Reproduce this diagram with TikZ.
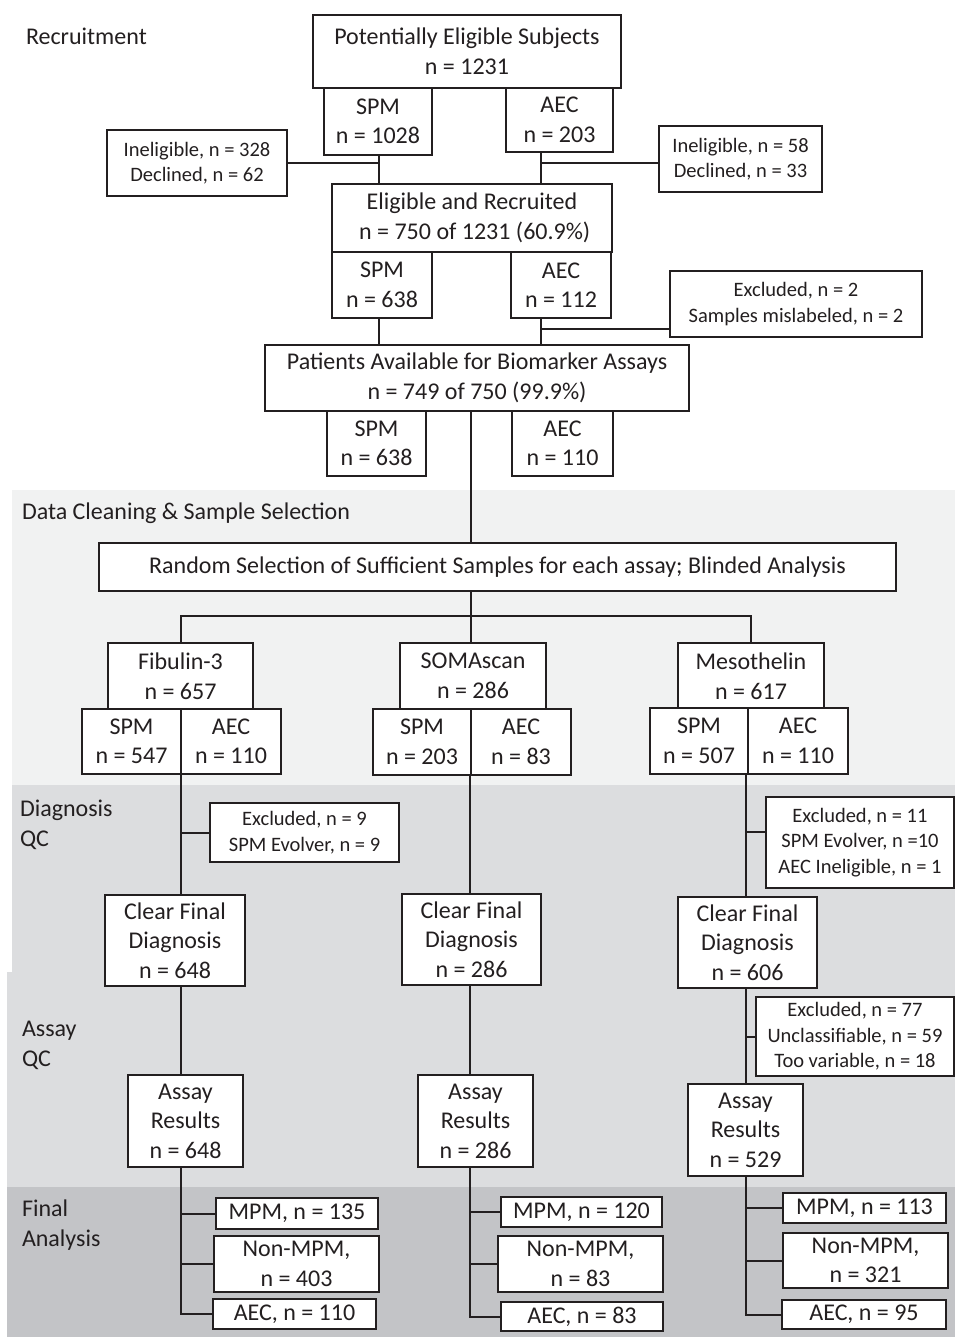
\documentclass[tikz,border=0pt]{standalone}
\usepackage{fontspec}
\setmainfont{Carlito}
\usepackage{tikz}
\definecolor{BandLight}{RGB}{241,242,242}
\definecolor{BandMid}{RGB}{220,221,223}
\definecolor{BandDark}{RGB}{195,196,199}
\definecolor{Ink}{RGB}{35,31,32}

\begin{document}
\begin{tikzpicture}[x=1pt,y=-1pt,inner sep=0pt,line width=2pt,
  box/.style={draw=Ink,fill=white,align=center,text=Ink,font=\fontsize{24}{29.5}\selectfont},
  sidebox/.style={box,font=\fontsize{20.5}{25.5}\selectfont},
  stage/.style={anchor=west,align=left,text=Ink,font=\fontsize{24}{30}\selectfont}]
\useasboundingbox (0,0) rectangle (955,1337);
% Backgrounds
\fill [BandLight] (12,490) rectangle (955,785);
\fill [BandMid] (12,785) rectangle (955,972);
\fill [BandMid] (7,972) rectangle (955,1187);
\fill [BandDark] (7,1187) rectangle (955,1337);
% Stage Labels
\node at (25,36) [stage] (StRecruit) {Recruitment};
\node at (21,513) [stage] (StCleaning) {Data Cleaning \& Sample Selection};
\node at (19,825) [stage] (StDiag) {Diagnosis\\QC};
\node at (21,1045) [stage] (StAssay) {Assay\\QC};
\node at (21,1225) [stage] (StFinal) {Final\\Analysis};
% Recruitment Boxes
\node at (467,51.5) [box,minimum width=308pt,minimum height=73pt] (PotElig) {Potentially Eligible Subjects\\n = 1231};
\node at (378,121.5) [box,minimum width=108pt,minimum height=67pt] (SPMa) {SPM\\n = 1028};
\node at (559.5,120) [box,minimum width=107pt,minimum height=64pt] (AECa) {AEC\\n = 203};
\node at (197,163) [sidebox,minimum width=180pt,minimum height=66pt] (IneligL) {Ineligible, n = 328\\Declined, n = 62};
\node at (740.5,159) [sidebox,minimum width=163pt,minimum height=66pt] (IneligR) {Ineligible, n = 58\\Declined, n = 33};
\node at (472,218) [box,minimum width=280pt,minimum height=68pt] (EligRec) {Eligible and Recruited\\\ n = 750 of 1231 (60.9\%)};
\node at (382,285) [box,minimum width=100pt,minimum height=66pt] (SPMb) {SPM\\n = 638};
\node at (561,285) [box,minimum width=100pt,minimum height=66pt] (AECb) {AEC\\n = 112};
\node at (796,304) [sidebox,minimum width=252pt,minimum height=66pt] (Mislabel) {Excluded, n = 2\\Samples mislabeled, n = 2};
\node at (477,378) [box,minimum width=424pt,minimum height=66pt] (Patients) {Patients Available for Biomarker Assays\\n = 749 of 750 (99.9\%)};
\node at (376.5,443.5) [box,minimum width=99pt,minimum height=65pt] (SPMc) {SPM\\n = 638};
\node at (562.5,443.5) [box,minimum width=101pt,minimum height=65pt] (AECc) {AEC\\n = 110};
% Selection Boxes
\node at (497.5,567) [box,minimum width=797pt,minimum height=48pt] (Random) {Random Selection of Sufficient Samples for each assay; Blinded Analysis};
\node at (180.5,676) [box,minimum width=145pt,minimum height=66pt] (Fibulin) {Fibulin-3\\n = 657};
\node at (473,676) [box,minimum width=146pt,minimum height=66pt] (Soma) {SOMAscan\\n = 286};
\node at (751,676) [box,minimum width=146pt,minimum height=66pt] (Meso) {Mesothelin\\n = 617};
\node at (131.5,741.5) [box,minimum width=99pt,minimum height=65pt] (SPMd) {SPM\\n = 547};
\node at (231,741.5) [box,minimum width=100pt,minimum height=65pt] (AECd) {AEC\\n = 110};
\node at (422,742) [box,minimum width=98pt,minimum height=66pt] (SPMe) {SPM\\n = 203};
\node at (521,742) [box,minimum width=100pt,minimum height=66pt] (AECe) {AEC\\n = 83};
\node at (699,741) [box,minimum width=98pt,minimum height=66pt] (SPMf) {SPM\\n = 507};
\node at (798,741) [box,minimum width=100pt,minimum height=66pt] (AECf) {AEC\\n = 110};
% QC Boxes
\node at (304.5,832.5) [sidebox,minimum width=189pt,minimum height=59pt] (ExclFib) {Excluded, n = 9\\SPM Evolver, n = 9};
\node at (860,842.5) [sidebox,minimum width=188pt,minimum height=91pt] (ExclMeso) {Excluded, n = 11\\SPM Evolver, n =10\\AEC Ineligible, n = 1};
\node at (175,940.5) [box,minimum width=140pt,minimum height=91pt] (ClearFib) {Clear Final\\Diagnosis\\n = 648};
\node at (471.5,939.5) [box,minimum width=139pt,minimum height=91pt] (ClearSoma) {Clear Final\\Diagnosis\\n = 286};
\node at (747.5,942.5) [box,minimum width=139pt,minimum height=91pt] (ClearMeso) {Clear Final\\Diagnosis\\n = 606};
\node at (855,1036.5) [sidebox,minimum width=198pt,minimum height=79pt] (ExclAssay) {Excluded, n = 77\\Unclassifiable, n = 59\\Too variable, n = 18};
\node at (185.5,1121) [box,minimum width=115pt,minimum height=92pt] (AssayFib) {Assay\\Results\\n = 648};
\node at (475.5,1121) [box,minimum width=115pt,minimum height=92pt] (AssaySoma) {Assay\\Results\\n = 286};
\node at (745.5,1130) [box,minimum width=115pt,minimum height=92pt] (AssayMeso) {Assay\\Results\\n = 529};
% Final Analysis Boxes
\node at (297,1213.5) [box,minimum width=162pt,minimum height=31pt] (MPMFib) {MPM, n = 135};
\node at (296.5,1264) [box,minimum width=165pt,minimum height=56pt] (NonFib) {Non-MPM,\\n = 403};
\node at (294.5,1314) [box,minimum width=163pt,minimum height=30pt] (AECFib) {AEC, n = 110};
\node at (581.5,1212) [box,minimum width=161pt,minimum height=30pt] (MPMSoma) {MPM, n = 120};
\node at (580.5,1264) [box,minimum width=165pt,minimum height=56pt] (NonSoma) {Non-MPM,\\n = 83};
\node at (582,1316.5) [box,minimum width=162pt,minimum height=29pt] (AECSoma) {AEC, n = 83};
\node at (864.5,1208) [box,minimum width=163pt,minimum height=30pt] (MPMMeso) {MPM, n = 113};
\node at (865.5,1260.5) [box,minimum width=165pt,minimum height=55pt] (NonMeso) {Non-MPM,\\n = 321};
\node at (864,1314.5) [box,minimum width=164pt,minimum height=29pt] (AECMeso) {AEC, n = 95};
% Junction Points
\coordinate (JoinL) at (379,163);
\coordinate (JoinR) at (541,163);
\coordinate (JoinM) at (541,329);
\coordinate (JoinQ) at (746,832);
\coordinate (Trunk) at (471,616);
\coordinate (ColA) at (181,0);
\coordinate (ColB) at (470,0);
\coordinate (ColC) at (746,0);
% Node Connections
\draw [Ink] (JoinL |- SPMa.south) -- (JoinL |- EligRec.north);
\draw [Ink] (IneligL.east) -- (JoinL);
\draw [Ink] (JoinR |- AECa.south) -- (JoinR |- EligRec.north);
\draw [Ink] (JoinR) -- (IneligR.west |- JoinR);
\draw [Ink] (JoinL |- SPMb.south) -- (JoinL |- Patients.north);
\draw [Ink] (JoinR |- AECb.south) -- (JoinR |- Patients.north);
\draw [Ink] (JoinM) -- (Mislabel.west |- JoinM);
\draw [Ink] (Trunk |- Patients.south) -- (Trunk |- Random.north);
\draw [Ink] (Trunk |- Random.south) -- (Trunk |- Soma.north);
\draw [Ink] (Fibulin.north) -- (Fibulin.north |- Trunk) -- (Meso.north |- Trunk) -- (Meso.north);
% Column Connections
\draw [Ink] (ColA |- AECd.south) -- (ColA |- ClearFib.north);
\draw [Ink] (ColA |- ExclFib.west) -- (ExclFib.west);
\draw [Ink] (ColA |- ClearFib.south) -- (ColA |- AssayFib.north);
\draw [Ink] (ColA |- AssayFib.south) -- (ColA |- AECFib.west) -- (AECFib.west);
\draw [Ink] (ColA |- MPMFib.west) -- (MPMFib.west);
\draw [Ink] (ColA |- NonFib.west) -- (NonFib.west);
\draw [Ink] (ColB |- AECe.south) -- (ColB |- ClearSoma.north);
\draw [Ink] (ColB |- ClearSoma.south) -- (ColB |- AssaySoma.north);
\draw [Ink] (ColB |- AssaySoma.south) -- (ColB |- AECSoma.west) -- (AECSoma.west);
\draw [Ink] (ColB |- MPMSoma.west) -- (MPMSoma.west);
\draw [Ink] (ColB |- NonSoma.west) -- (NonSoma.west);
\draw [Ink] (ColC |- AECf.south) -- (ColC |- ClearMeso.north);
\draw [Ink] (JoinQ) -- (ExclMeso.west |- JoinQ);
\draw [Ink] (ColC |- ClearMeso.south) -- (ColC |- AssayMeso.north);
\draw [Ink] (ColC |- ExclAssay.west) -- (ExclAssay.west);
\draw [Ink] (ColC |- AssayMeso.south) -- (ColC |- AECMeso.west) -- (AECMeso.west);
\draw [Ink] (ColC |- MPMMeso.west) -- (MPMMeso.west);
\draw [Ink] (ColC |- NonMeso.west) -- (NonMeso.west);
\end{tikzpicture}
\end{document}
